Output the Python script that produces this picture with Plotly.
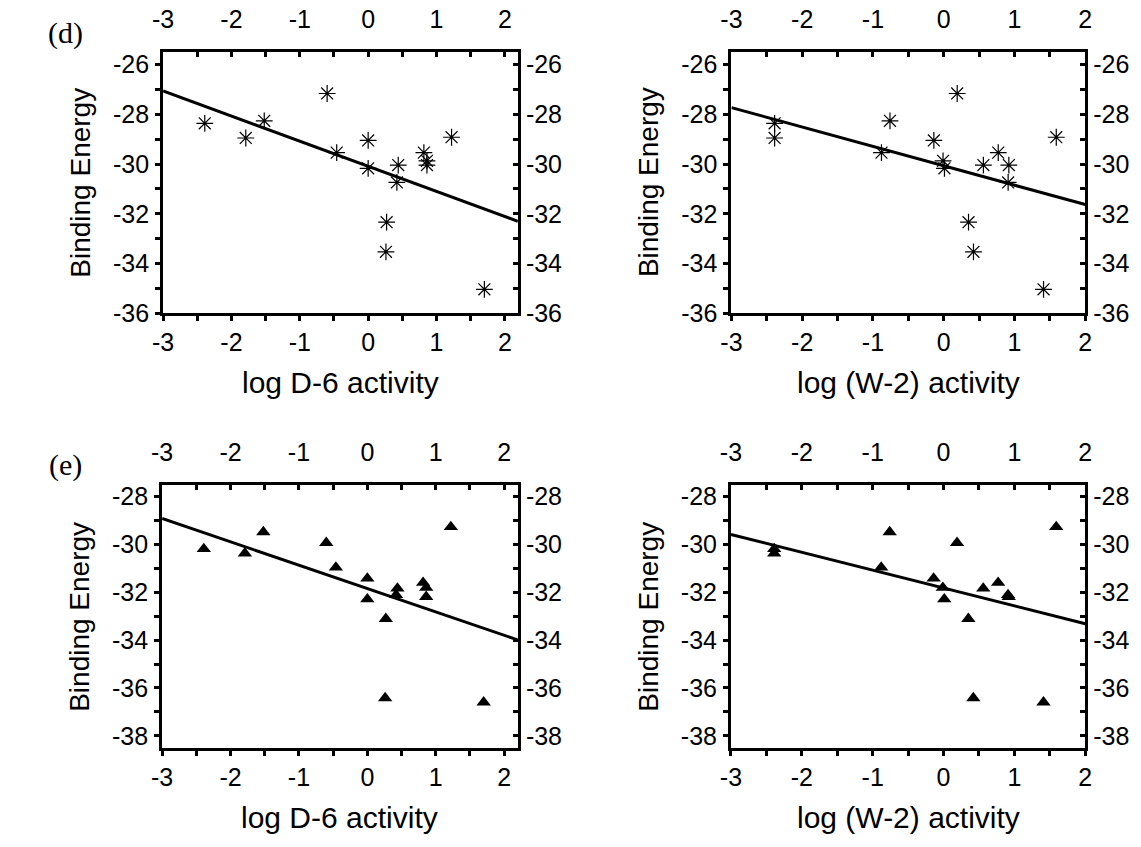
import numpy as np
import plotly.graph_objects as go

# Compound data: log activity against two malaria strains and binding energies
log_d6 = [-2.39, -1.79, -1.52, -0.60, -0.46, 0.00, 0.00, 0.44, 0.42, 0.27, 0.26, 0.815, 0.86, 0.86, 1.22, 1.70]
log_w2 = [-2.39, -2.39, -0.76, 0.19, -0.88, -0.14, 0.01, 0.56, 0.91, 0.35, 0.42, 0.77, -0.01, 0.92, 1.59, 1.41]
be_d = [-28.36, -28.95, -28.26, -27.16, -29.54, -29.05, -30.17, -30.04, -30.74, -32.34, -33.53, -29.54, -29.87, -30.04, -28.92, -35.04]
be_e = [-30.19, -30.37, -29.48, -29.93, -30.96, -31.42, -32.29, -31.84, -32.11, -33.11, -36.42, -31.60, -31.81, -32.19, -29.27, -36.60]

# tick positions and labels (plain hyphen minus signs)
x_ticks = [-3, -2, -1, 0, 1, 2]
x_ticklabels = ["-3", "-2", "-1", "0", "1", "2"]
y_ticks_d = [-36, -34, -32, -30, -28, -26]
y_ticklabels_d = ["-36", "-34", "-32", "-30", "-28", "-26"]
y_ticks_e = [-38, -36, -34, -32, -30, -28]
y_ticklabels_e = ["-38", "-36", "-34", "-32", "-30", "-28"]

W, H = 1141, 847
SANS = "Arial, Liberation Sans, sans-serif"
SERIF = "Times New Roman, Liberation Serif, serif"

# panel layout: pixel box (left, right, top, bottom), axis ranges, marker style
panels = [
    dict(x=log_d6, y=be_d, sym="asterisk-open", size=14, box=(154.5, 515, 49.5, 316.5),
         xr=[-3, 2.19], yr=[-36, -25.47], yt=(y_ticks_d, y_ticklabels_d), xt="log D-6 activity"),
    dict(x=log_w2, y=be_d, sym="asterisk-open", size=14, box=(732, 1091.5, 49.5, 316.5),
         xr=[-3, 2.0], yr=[-36, -25.47], yt=(y_ticks_d, y_ticklabels_d), xt="log (W-2) activity"),
    dict(x=log_d6, y=be_e, sym="triangle-up", size=12.5, box=(153.5, 515, 492, 760),
         xr=[-3, 2.2], yr=[-38.5, -27.52], yt=(y_ticks_e, y_ticklabels_e), xt="log D-6 activity"),
    dict(x=log_w2, y=be_e, sym="triangle-up", size=12.5, box=(731.5, 1091.5, 492, 760),
         xr=[-3, 2.0], yr=[-38.5, -27.52], yt=(y_ticks_e, y_ticklabels_e), xt="log (W-2) activity"),
]

fig = go.Figure()
layout = {}
annotations = []

for i, p in enumerate(panels, start=1):
    l, r, t, b = p["box"]
    xdom = [l / W, r / W]
    ydom = [1 - b / H, 1 - t / H]
    xs = "x" if i == 1 else f"x{i}"
    ys = "y" if i == 1 else f"y{i}"

    tick_font = dict(family=SANS, size=25, color="black")
    common_x = dict(range=p["xr"], tickmode="array", tickvals=x_ticks, ticktext=x_ticklabels,
                    showgrid=False, zeroline=False,
                    showline=True, linecolor="black", linewidth=3, tickwidth=2.5, ticklen=5,
                    tickcolor="black", tickfont=tick_font, fixedrange=True)
    common_y = dict(range=p["yr"], tickmode="array", tickvals=p["yt"][0], ticktext=p["yt"][1],
                    showgrid=False, zeroline=False,
                    showline=True, linecolor="black", linewidth=3, tickwidth=2.5, ticklen=5,
                    tickcolor="black", tickfont=tick_font, fixedrange=True)
    xminor = dict(dtick=0.5, tick0=0, ticklen=5, tickwidth=2.5, tickcolor="black")
    yminor = dict(dtick=1, tick0=0, ticklen=5, tickwidth=2.5, tickcolor="black")

    layout[f"xaxis{i}"] = dict(common_x, domain=xdom, anchor=ys, side="bottom", ticks="outside",
                               minor=dict(xminor, ticks="outside"))
    layout[f"yaxis{i}"] = dict(common_y, domain=ydom, anchor=xs, side="left", ticks="outside",
                               ticklabelstandoff=1, minor=dict(yminor, ticks="outside"))
    layout[f"xaxis{i + 4}"] = dict(common_x, overlaying=xs, anchor=ys, side="top", ticks="inside",
                                   ticklabelstandoff=11, minor=dict(xminor, ticks="inside"))
    layout[f"yaxis{i + 4}"] = dict(common_y, overlaying=ys, anchor=xs, side="right", ticks="inside",
                                   minor=dict(yminor, ticks="inside"))

    # least-squares fit across the full axis width
    slope, icpt = np.polyfit(p["x"], p["y"], 1)
    fx = np.array(p["xr"])
    fig.add_trace(go.Scatter(x=fx, y=icpt + slope * fx, mode="lines",
                             line=dict(color="black", width=3), xaxis=xs, yaxis=ys,
                             showlegend=False, hoverinfo="skip"))

    if p["sym"].startswith("asterisk"):
        marker = dict(symbol=p["sym"], size=p["size"], color="black",
                      line=dict(color="black", width=1.2))
    else:
        marker = dict(symbol=p["sym"], size=p["size"], color="black",
                      line=dict(width=0))
    fig.add_trace(go.Scatter(x=p["x"], y=p["y"], mode="markers", marker=marker,
                             xaxis=xs, yaxis=ys, showlegend=False, cliponaxis=False))

    # invisible trace so the mirrored top/right axes are drawn
    fig.add_trace(go.Scatter(x=[p["xr"][0]], y=[p["yr"][0]], mode="markers",
                             marker=dict(opacity=0), xaxis=f"x{i + 4}", yaxis=f"y{i + 4}",
                             showlegend=False, hoverinfo="skip"))

    # axis titles
    annotations.append(dict(text=p["xt"], xref="paper", yref="paper",
                            x=(l + r) / 2 / W, y=1 - (b + 71) / H,
                            showarrow=False, font=dict(family=SANS, size=30, color="black"),
                            xanchor="center", yanchor="middle"))
    annotations.append(dict(text="Binding Energy", xref="paper", yref="paper",
                            x=(l - 84) / W, y=1 - (t + b) / 2 / H, textangle=-90,
                            showarrow=False, font=dict(family=SANS, size=28, color="black"),
                            xanchor="center", yanchor="middle"))

for lab, yy in (("(d)", 31), ("(e)", 471)):
    annotations.append(dict(text=lab, xref="paper", yref="paper", x=55 / W, y=1 - yy / H,
                            showarrow=False, font=dict(family=SERIF, size=30, color="black"),
                            xanchor="center", yanchor="middle"))

fig.update_layout(width=W, height=H, margin=dict(l=0, r=0, t=0, b=0),
                  paper_bgcolor="white", plot_bgcolor="white",
                  annotations=annotations, **layout)

fig.write_html("out.html")
